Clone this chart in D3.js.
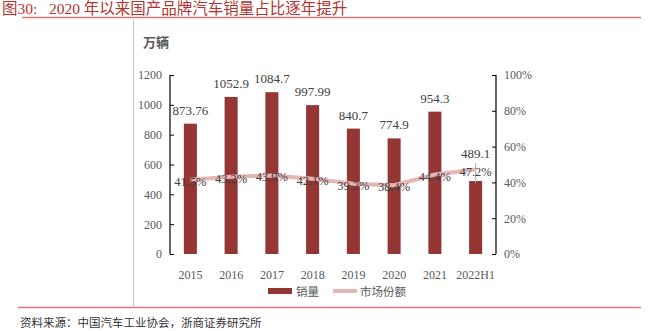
<!DOCTYPE html>
<html><head><meta charset="utf-8">
<script src="https://cdn.jsdelivr.net/npm/d3@7"></script>
<style>
html,body{margin:0;padding:0;background:#fff;}
svg{display:block;}
</style></head>
<body>
<svg id="chart" width="650" height="331"></svg>
<script>
// Annual sales of domestic-brand passenger cars (10k units) and market share
const categories = ["2015","2016","2017","2018","2019","2020","2021","2022H1"];
const salesValues = [873.76, 1052.9, 1084.7, 997.99, 840.7, 774.9, 954.3, 489.1];
const salesLabels = ["873.76","1052.9","1084.7","997.99","840.7","774.9","954.3","489.1"];
const shareValues = [41.5, 43.2, 43.9, 42.1, 39.2, 38.4, 44.4, 47.2];
const leftTicks = [0, 200, 400, 600, 800, 1000, 1200];
const rightTicks = [0, 20, 40, 60, 80, 100];

const serif = "'Liberation Serif','Times New Roman',serif";
const mixed = "'Liberation Serif','Noto Sans CJK SC','Noto Sans CJK JP',serif";
const cjk = "'Noto Sans CJK SC','Noto Sans CJK JP',sans-serif";
const barColor = "#943634";
const lineColor = "#e6b5b5";
const textColor = "#404040";

const svg = d3.select("#chart");

// Header
svg.append("text").attr("x", 2).attr("y", 14)
  .attr("font-family", mixed).attr("font-size", 15.5).attr("fill", "#b5332f")
  .attr("xml:space", "preserve")
  .text("图30:   2020 年以来国产品牌汽车销量占比逐年提升");
svg.append("line").attr("x1", 22).attr("x2", 641).attr("y1", 17.5).attr("y2", 17.5)
  .attr("stroke", "#d9787a").attr("stroke-width", 1.5);
svg.append("line").attr("x1", 133.5).attr("x2", 133.5).attr("y1", 20).attr("y2", 306)
  .attr("stroke", "#bfbfbf").attr("stroke-width", 1);
svg.append("line").attr("x1", 18).attr("x2", 641).attr("y1", 307.5).attr("y2", 307.5)
  .attr("stroke", "#d9787a").attr("stroke-width", 1.5);
svg.append("text").attr("x", 20).attr("y", 327)
  .attr("font-family", mixed).attr("font-size", 11.5).attr("fill", "#333")
  .text("资料来源：中国汽车工业协会，浙商证券研究所");

svg.append("text").attr("x", 143).attr("y", 47)
  .attr("font-family", cjk).attr("font-size", 13).attr("font-weight", "bold").attr("fill", "#595959")
  .text("万辆");

// Scales
const x = d3.scaleBand().domain(categories).range([170, 496]).paddingInner(0.68).paddingOuter(0.34);
const yL = d3.scaleLinear().domain([0, 1200]).range([254, 75]);
const yR = d3.scaleLinear().domain([0, 100]).range([254, 75]);

// Axes
const leftAxis = d3.axisLeft(yL).tickValues(leftTicks).tickSize(-4).tickPadding(8).tickFormat(d3.format("d"));
const gL = svg.append("g").attr("transform", "translate(170,0)").call(leftAxis);
const rightAxis = d3.axisRight(yR).tickValues(rightTicks).tickSize(-4).tickPadding(8).tickFormat(d => d + "%");
const gR = svg.append("g").attr("transform", "translate(496,0)").call(rightAxis);
[gL, gR].forEach(g => {
  g.select(".domain").remove();
  g.selectAll(".tick line").attr("stroke", "#000");
  g.selectAll(".tick text").attr("font-family", serif).attr("font-size", 12).attr("fill", "#595959");
});
svg.append("line").attr("x1", 170).attr("x2", 170).attr("y1", yL(1200)).attr("y2", yL(0)).attr("stroke", "#000").attr("stroke-width", 1.2);
svg.append("line").attr("x1", 496).attr("x2", 496).attr("y1", yR(100)).attr("y2", yR(0)).attr("stroke", "#000").attr("stroke-width", 1.2);

// Category labels
const gx = svg.append("g").attr("transform", "translate(0,254)")
  .call(d3.axisBottom(x).tickSize(0).tickPadding(16));
gx.select(".domain").remove();
gx.selectAll(".tick text").attr("font-family", serif).attr("font-size", 12).attr("fill", "#595959");

// Bars
svg.append("g").selectAll("rect").data(categories).join("rect")
  .attr("x", d => x(d)).attr("width", x.bandwidth())
  .attr("y", (d, i) => yL(salesValues[i]))
  .attr("height", (d, i) => yL(0) - yL(salesValues[i]))
  .attr("fill", barColor);

// Thin marker on the half-year bar
const lastCat = categories[categories.length - 1];
svg.append("line")
  .attr("x1", x(lastCat) + x.bandwidth() / 2).attr("x2", x(lastCat) + x.bandwidth() / 2)
  .attr("y1", yL(salesValues[7]) - 18).attr("y2", yL(salesValues[7]) + 2)
  .attr("stroke", "#aaa").attr("stroke-width", 1);

// Bar value labels (the half-year label sits above the share label)
svg.append("g").selectAll("text").data(categories).join("text")
  .attr("x", d => x(d) + x.bandwidth() / 2)
  .attr("y", (d, i) => yL(salesValues[i]) - (i === categories.length - 1 ? 23 : 9))
  .attr("text-anchor", "middle")
  .attr("font-family", serif).attr("font-size", 13).attr("fill", textColor)
  .text((d, i) => salesLabels[i]);

// Market share line
const line = d3.line()
  .x((d, i) => x(categories[i]) + x.bandwidth() / 2)
  .y(d => yR(d));
svg.append("path").datum(shareValues)
  .attr("d", line).attr("fill", "none")
  .attr("stroke", lineColor).attr("stroke-width", 4).attr("stroke-linejoin", "round");

svg.append("g").selectAll("text").data(shareValues).join("text")
  .attr("x", (d, i) => x(categories[i]) + x.bandwidth() / 2)
  .attr("y", d => yR(d) + 6)
  .attr("text-anchor", "middle")
  .attr("font-family", serif).attr("font-size", 12.5).attr("fill", textColor)
  .text(d => d.toFixed(1) + "%");

// Legend
const lg = svg.append("g");
lg.append("rect").attr("x", 268).attr("y", 288).attr("width", 24).attr("height", 6).attr("fill", barColor);
lg.append("text").attr("x", 296).attr("y", 296).attr("font-family", cjk).attr("font-size", 11.5).attr("fill", "#595959").text("销量");
lg.append("line").attr("x1", 333).attr("x2", 357).attr("y1", 291).attr("y2", 291).attr("stroke", lineColor).attr("stroke-width", 4);
lg.append("text").attr("x", 360).attr("y", 296).attr("font-family", cjk).attr("font-size", 11.5).attr("fill", "#595959").text("市场份额");
</script>
</body></html>
